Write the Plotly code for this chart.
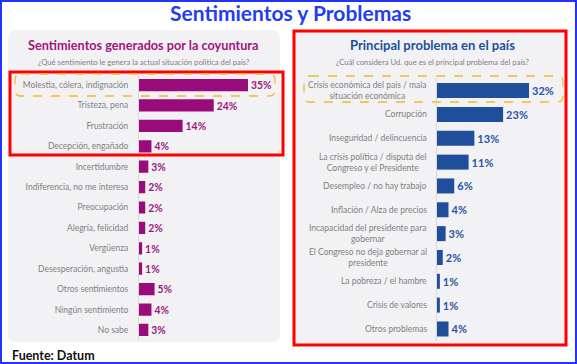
import plotly.graph_objects as go

W, H = 577, 364

title_main = "Sentimientos y Problemas"
left_title = "Sentimientos generados por la coyuntura"
left_sub = "¿Qué sentimiento le genera la actual situación política del país?"
right_title = "Principal problema en el país"
right_sub = "¿Cuál considera Ud. que es el principal problema del país?"
source = "Fuente: Datum"

left_labels = ["Molestia, cólera, indignación", "Tristeza, pena", "Frustración",
               "Decepción, engañado", "Incertidumbre", "Indiferencia, no me interesa",
               "Preocupación", "Alegría, felicidad", "Vergüenza", "Desesperación, angustia",
               "Otros sentimientos", "Ningún sentimiento", "No sabe"]
left_values = [35, 24, 14, 4, 3, 2, 2, 2, 1, 1, 5, 4, 3]

right_labels = ["Crisis económica del país / mala<br>situación económica", "Corrupción",
                "Inseguridad / delincuencia",
                "La crisis política / disputa del<br>Congreso y el Presidente",
                "Desempleo / no hay trabajo", "Inflación / Alza de precios",
                "Incapacidad del presidente para<br>gobernar",
                "El Congreso no deja gobernar al<br>presidente",
                "La pobreza / el hambre", "Crisis de valores", "Otros problemas"]
right_values = [32, 23, 13, 11, 6, 4, 3, 2, 1, 1, 4]

MAG = "#990a7b"
BLUE = "#1f4e9a"
GREY = "#7f7f7f"
FONT = "Lato"


def px(x):
    return x / W


def py(y):
    return 1 - y / H


def rrect(x0, y0, x1, y1, r):
    a, b, c, d = px(x0), py(y0), px(x1), py(y1)
    rx, ry = r / W, r / H
    return (f"M {a+rx},{b} L {c-rx},{b} Q {c},{b} {c},{b-ry} L {c},{d+ry} Q {c},{d} {c-rx},{d} "
            f"L {a+rx},{d} Q {a},{d} {a},{d+ry} L {a},{b-ry} Q {a},{b} {a+rx},{b} Z")


fig = go.Figure()
fig.add_trace(go.Bar(
    x=left_values, y=left_labels, orientation="h", xaxis="x", yaxis="y",
    marker=dict(color=MAG, line=dict(width=0)), width=0.6,
    text=[f"<b>{v}%</b>" for v in left_values], textposition="outside",
    textfont=dict(color="#a0177f", size=11, family=FONT), cliponaxis=False,
    hoverinfo="skip"))
fig.add_trace(go.Bar(
    x=right_values, y=right_labels, orientation="h", xaxis="x2", yaxis="y2",
    marker=dict(color=BLUE, line=dict(width=0)), width=0.63,
    text=[f"<b>{v}%</b>" for v in right_values], textposition="outside",
    textfont=dict(color="#2c53a4", size=11, family=FONT), cliponaxis=False,
    hoverinfo="skip"))

shapes = [
    dict(type="rect", xref="paper", yref="paper", x0=px(1), y0=py(363), x1=px(576), y1=py(1),
         line=dict(color="#2233ff", width=2), layer="below"),
    dict(type="path", xref="paper", yref="paper", path=rrect(8, 30, 280, 342, 8),
         fillcolor="#f2f2f5", line=dict(width=0), layer="below"),
    dict(type="rect", xref="paper", yref="paper", x0=px(294), y0=py(344), x1=px(565), y1=py(31),
         fillcolor="#f2f2f5", line=dict(width=0), layer="below"),
    dict(type="rect", xref="paper", yref="paper", x0=px(10), y0=py(155), x1=px(283), y1=py(72),
         line=dict(color="#ff0000", width=3), layer="above"),
    dict(type="rect", xref="paper", yref="paper", x0=px(294), y0=py(345), x1=px(566), y1=py(31),
         line=dict(color="#ff0000", width=3), layer="above"),
    dict(type="path", xref="paper", yref="paper", path=rrect(15, 74, 275, 96, 6),
         line=dict(color="#f5b92a", width=1.3, dash="dash"), layer="above"),
    dict(type="path", xref="paper", yref="paper", path=rrect(304, 76, 563, 102, 6),
         line=dict(color="#f5b92a", width=1.3, dash="dash"), layer="above"),
]


def ann(text, x, y, size, color, xanchor="center"):
    return dict(text=text, x=px(x), y=py(y), xref="paper", yref="paper",
                xanchor=xanchor, yanchor="middle", showarrow=False,
                font=dict(size=size, color=color, family=FONT))


annotations = [
    ann(f"<b>{title_main}</b>", 290, 13, 21, "#1f3df5"),
    ann(f"<b>{left_title}</b>", 143, 45, 12.7, "#a3127f"),
    ann(left_sub, 144, 62, 7.7, GREY),
    ann(f"<b>{right_title}</b>", 432, 45, 13, "#1c4f9c"),
    ann(right_sub, 432, 62, 7.7, GREY),
    ann(f"<b>{source}</b>", 10, 355, 12.5, "#111111", xanchor="left"),
]
# right category labels (centered multi-line, as in the reference)
for lab in right_labels:
    annotations.append(dict(text=lab, x=0, y=lab, xref="x2 domain", yref="y2",
                            xanchor="right", yanchor="middle", xshift=-8, align="center",
                            showarrow=False, font=dict(size=8.5, color=GREY, family=FONT)))

fig.update_layout(
    width=W, height=H, margin=dict(l=0, r=0, t=0, b=0),
    paper_bgcolor="white", plot_bgcolor="rgba(0,0,0,0)",
    showlegend=False, shapes=shapes, annotations=annotations,
    font=dict(family=FONT),
    xaxis=dict(domain=[px(139), px(139 + 40 * 3.114)], range=[0, 40], visible=False, fixedrange=True),
    yaxis=dict(domain=[py(340.2), py(74.8)], type="category", autorange="reversed",
               tickfont=dict(size=8.5, color=GREY, family=FONT), ticklabelstandoff=8,
               showline=True, linecolor="#d9d9d9", linewidth=1, ticks="", showgrid=False,
               fixedrange=True, anchor="x", automargin=False),
    xaxis2=dict(domain=[px(437), px(437 + 40 * 2.875)], range=[0, 40], visible=False,
                fixedrange=True, anchor="y2"),
    yaxis2=dict(domain=[py(340.9), py(78.1)], type="category", autorange="reversed",
                showticklabels=False,
                showline=True, linecolor="#d9d9d9", linewidth=1, ticks="", showgrid=False,
                fixedrange=True, anchor="x2", automargin=False),
)

fig.write_html("out.html", config={"displayModeBar": False},
               post_script="document.body.style.margin='0';document.body.style.overflow='hidden';")
